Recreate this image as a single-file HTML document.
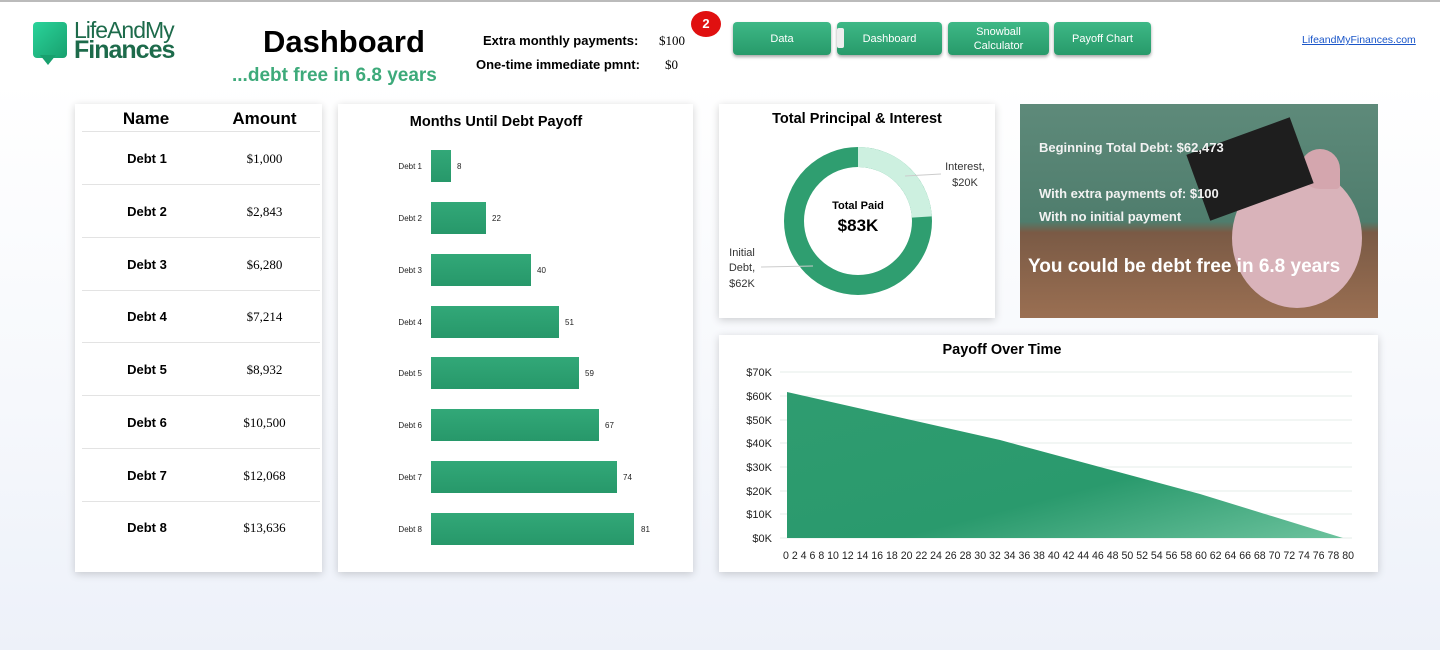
<!DOCTYPE html>
<html><head><style>
*{margin:0;padding:0;box-sizing:border-box}
body{width:1440px;height:650px;overflow:hidden;position:relative;font-family:"Liberation Sans",sans-serif;background:linear-gradient(#fff 0,#fff 80px,#f6f8fc 400px,#edf1f9 650px)}
.abs{position:absolute}
.panel{position:absolute;background:#fff;box-shadow:0 2px 8px rgba(0,0,0,.18)}
.btn{position:absolute;top:22px;height:33px;background:linear-gradient(#3eb886,#279a6a);border-radius:4px;color:#fff;font-size:11px;text-align:center;box-shadow:0 2px 3px rgba(0,0,0,.35);display:flex;align-items:center;justify-content:center;line-height:14px}
.row{position:absolute;left:82px;width:238px;height:53px;border-bottom:1px solid #e3e3e3;font-size:13px}
.row .n{position:absolute;left:0;width:130px;text-align:center;top:19px;font-weight:bold}
.row .a{position:absolute;left:130px;width:105px;text-align:center;top:19px;font-family:"Liberation Serif",serif;font-size:13px}
.w{color:#f2f2f2;font-size:13px;font-weight:bold;white-space:nowrap}
</style></head><body>
<div class="abs" style="left:0;top:0;width:1440px;height:2px;background:#bbb"></div>
<!-- logo -->
<div class="abs" style="left:33px;top:22px;width:34px;height:36px;background:linear-gradient(135deg,#2ad39a,#18a06e);border-radius:4px"></div>
<div class="abs" style="left:40px;top:55px;width:16px;height:10px;background:#18a06e;clip-path:polygon(0 0,100% 0,50% 100%)"></div>
<div class="abs" style="left:74px;top:19px;font-size:23px;color:#1d6b4b;letter-spacing:-1px;line-height:22px">LifeAndMy</div>
<div class="abs" style="left:74px;top:38px;font-size:25px;color:#1d6b4b;font-weight:bold;letter-spacing:-1px;line-height:25px">Finances</div>
<div class="abs" style="left:263px;top:24px;font-size:31px;font-weight:bold;white-space:nowrap">Dashboard</div>
<div class="abs" style="left:232px;top:65px;font-size:19px;font-weight:bold;color:#3daa7a;white-space:nowrap">...debt free in 6.8 years</div>
<div class="abs" style="left:483px;top:33px;font-size:13px;font-weight:bold">Extra monthly payments:</div>
<div class="abs" style="left:476px;top:57px;font-size:13px;font-weight:bold">One-time immediate pmnt:</div>
<div class="abs" style="left:659px;top:33px;font-size:13px;font-family:'Liberation Serif',serif">$100</div>
<div class="abs" style="left:665px;top:57px;font-size:13px;font-family:'Liberation Serif',serif">$0</div>
<div class="abs" style="left:691px;top:11px;width:30px;height:26px;border-radius:50%;background:#e01010;color:#fff;font-weight:bold;font-size:13px;text-align:center;line-height:26px">2</div>
<div class="btn" style="left:733px;width:98px">Data</div>
<div class="btn" style="left:837px;width:105px">Dashboard</div>
<div class="abs" style="left:837px;top:28px;width:7px;height:20px;background:#eee;border-radius:2px"></div>
<div class="btn" style="left:948px;width:101px">Snowball<br>Calculator</div>
<div class="btn" style="left:1054px;width:97px">Payoff Chart</div>
<div class="abs" style="left:1302px;top:34px;font-size:10.5px;color:#1a56c9;text-decoration:underline">LifeandMyFinances.com</div>

<!-- table -->
<div class="panel" style="left:75px;top:104px;width:247px;height:468px"></div>
<div class="abs" style="left:82px;top:109px;width:238px;height:23px;border-bottom:1px solid #e3e3e3;font-size:17px;font-weight:bold">
<span class="abs" style="left:0;width:128px;text-align:center">Name</span><span class="abs" style="left:130px;width:105px;text-align:center">Amount</span></div>
<div class="row" style="top:132px"><div class="n">Debt 1</div><div class="a">$1,000</div></div>
<div class="row" style="top:185px"><div class="n">Debt 2</div><div class="a">$2,843</div></div>
<div class="row" style="top:238px"><div class="n">Debt 3</div><div class="a">$6,280</div></div>
<div class="row" style="top:290px"><div class="n">Debt 4</div><div class="a">$7,214</div></div>
<div class="row" style="top:343px"><div class="n">Debt 5</div><div class="a">$8,932</div></div>
<div class="row" style="top:396px"><div class="n">Debt 6</div><div class="a">$10,500</div></div>
<div class="row" style="top:449px"><div class="n">Debt 7</div><div class="a">$12,068</div></div>
<div class="row" style="top:501px;border:none"><div class="n">Debt 8</div><div class="a">$13,636</div></div>

<!-- bar chart -->
<div class="panel" style="left:338px;top:104px;width:355px;height:468px"></div>
<svg class="abs" style="left:0;top:0" width="1440" height="650" font-family="Liberation Sans, sans-serif">
<defs><linearGradient id="g" x1="0" y1="0" x2="0" y2="1"><stop offset="0" stop-color="#32a878"/><stop offset="1" stop-color="#27986a"/></linearGradient>
<linearGradient id="ga" x1="0" y1="0" x2="1" y2="1"><stop offset="0" stop-color="#2f9c70"/><stop offset=".6" stop-color="#2a9a6d"/><stop offset="1" stop-color="#6cc29d"/></linearGradient></defs>
<text x="496" y="126" font-size="14.5" font-weight="bold" text-anchor="middle">Months Until Debt Payoff</text>
<g font-size="8" fill="#222">
<text x="422" y="169" text-anchor="end">Debt 1</text><rect x="431" y="150" width="20" height="32" fill="url(#g)"/><text x="457" y="169">8</text>
<text x="422" y="221" text-anchor="end">Debt 2</text><rect x="431" y="202" width="55" height="32" fill="url(#g)"/><text x="492" y="221">22</text>
<text x="422" y="273" text-anchor="end">Debt 3</text><rect x="431" y="254" width="100" height="32" fill="url(#g)"/><text x="537" y="273">40</text>
<text x="422" y="325" text-anchor="end">Debt 4</text><rect x="431" y="306" width="128" height="32" fill="url(#g)"/><text x="565" y="325">51</text>
<text x="422" y="376" text-anchor="end">Debt 5</text><rect x="431" y="357" width="148" height="32" fill="url(#g)"/><text x="585" y="376">59</text>
<text x="422" y="428" text-anchor="end">Debt 6</text><rect x="431" y="409" width="168" height="32" fill="url(#g)"/><text x="605" y="428">67</text>
<text x="422" y="480" text-anchor="end">Debt 7</text><rect x="431" y="461" width="186" height="32" fill="url(#g)"/><text x="623" y="480">74</text>
<text x="422" y="532" text-anchor="end">Debt 8</text><rect x="431" y="513" width="203" height="32" fill="url(#g)"/><text x="641" y="532">81</text>
</g>
</svg>

<!-- donut -->
<div class="panel" style="left:719px;top:104px;width:276px;height:214px"></div>
<svg class="abs" style="left:719px;top:104px" width="276" height="214" font-family="Liberation Sans, sans-serif">
<text x="138" y="19" font-size="14.5" font-weight="bold" text-anchor="middle">Total Principal &amp; Interest</text>
<circle cx="139" cy="117" r="64" fill="none" stroke="#2f9e70" stroke-width="20"/>
<circle cx="139" cy="117" r="64" fill="none" stroke="#cdf0e0" stroke-width="20" stroke-dasharray="96.5 500" transform="rotate(-90 139 117)"/>
<text x="139" y="105" font-size="11" font-weight="bold" text-anchor="middle">Total Paid</text>
<text x="139" y="127" font-size="17" font-weight="bold" text-anchor="middle">$83K</text>
<line x1="186" y1="72" x2="222" y2="70" stroke="#ccc"/>
<line x1="42" y1="163" x2="94" y2="162" stroke="#ccc"/>
<g font-size="11" fill="#333"><text x="246" y="66" text-anchor="middle">Interest,</text><text x="246" y="82" text-anchor="middle">$20K</text>
<text x="23" y="152" text-anchor="middle">Initial</text><text x="23" y="167" text-anchor="middle">Debt,</text><text x="23" y="183" text-anchor="middle">$62K</text></g>
</svg>

<!-- image panel -->
<div class="abs" style="left:1020px;top:104px;width:358px;height:214px;background:linear-gradient(#5e8a7a 0,#4f7d6d 55%,#7a5a45 60%,#9a6f52 100%);overflow:hidden">
<div class="abs" style="left:212px;top:64px;width:130px;height:140px;border-radius:50%;background:#d9b3ba"></div>
<div class="abs" style="left:280px;top:45px;width:40px;height:40px;border-radius:50% 50% 10% 50%;background:#d4a6ae"></div>
<div class="abs" style="left:175px;top:30px;width:110px;height:70px;background:#1e1e1e;transform:rotate(-20deg)"></div>
<div class="abs w" style="left:19px;top:36px">Beginning Total Debt: $62,473</div>
<div class="abs w" style="left:19px;top:82px">With extra payments of: $100</div>
<div class="abs w" style="left:19px;top:105px">With no initial payment</div>
<div class="abs" style="left:8px;top:152px;color:#fff;font-size:19px;font-weight:bold;white-space:nowrap">You could be debt free in 6.8 years</div>
</div>

<!-- area chart -->
<div class="panel" style="left:719px;top:335px;width:659px;height:237px"></div>
<svg class="abs" style="left:0;top:0" width="1440" height="650" font-family="Liberation Sans, sans-serif">
<text x="1002" y="354" font-size="14.5" font-weight="bold" text-anchor="middle">Payoff Over Time</text>
<g stroke="#e4ecea">
<line x1="780" y1="372" x2="1352" y2="372"/><line x1="780" y1="396" x2="1352" y2="396"/><line x1="780" y1="420" x2="1352" y2="420"/><line x1="780" y1="443" x2="1352" y2="443"/><line x1="780" y1="467" x2="1352" y2="467"/><line x1="780" y1="491" x2="1352" y2="491"/><line x1="780" y1="514" x2="1352" y2="514"/><line x1="780" y1="538" x2="1352" y2="538"/></g>
<polygon points="787,392 1000,440 1200,494 1343,538 787,538" fill="url(#ga)"/>
<g font-size="11" fill="#222" text-anchor="end">
<text x="772" y="376">$70K</text><text x="772" y="400">$60K</text><text x="772" y="424">$50K</text><text x="772" y="447">$40K</text><text x="772" y="471">$30K</text><text x="772" y="495">$20K</text><text x="772" y="518">$10K</text><text x="772" y="542">$0K</text></g>
<text x="783" y="559" font-size="11" fill="#222" textLength="571" lengthAdjust="spacingAndGlyphs">0 2 4 6 8 10 12 14 16 18 20 22 24 26 28 30 32 34 36 38 40 42 44 46 48 50 52 54 56 58 60 62 64 66 68 70 72 74 76 78 80</text>
</svg>
</body></html>
